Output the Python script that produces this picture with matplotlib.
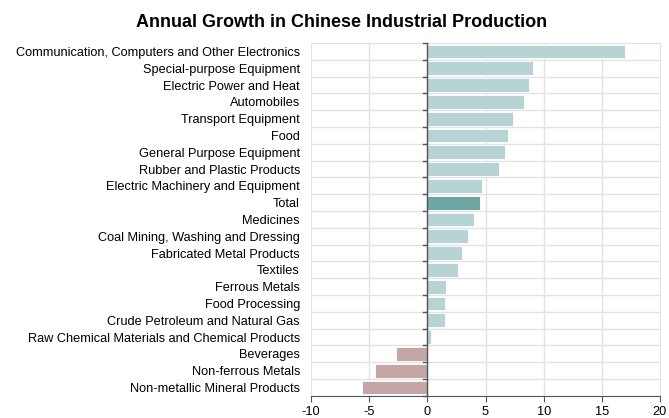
import numpy as np
import matplotlib.pyplot as plt

plt.rcParams['font.family'] = ['Liberation Sans', 'DejaVu Sans']

# Annual growth (%) by industry, top to bottom
industries = [
    'Communication, Computers and Other Electronics',
    'Special-purpose Equipment',
    'Electric Power and Heat',
    'Automobiles',
    'Transport Equipment',
    'Food',
    'General Purpose Equipment',
    'Rubber and Plastic Products',
    'Electric Machinery and Equipment',
    'Total',
    'Medicines',
    'Coal Mining, Washing and Dressing',
    'Fabricated Metal Products',
    'Textiles',
    'Ferrous Metals',
    'Food Processing',
    'Crude Petroleum and Natural Gas',
    'Raw Chemical Materials and Chemical Products',
    'Beverages',
    'Non-ferrous Metals',
    'Non-metallic Mineral Products',
]
growth = [17.0, 9.1, 8.7, 8.3, 7.4, 6.9, 6.7, 6.2, 4.7, 4.5, 4.0,
          3.5, 3.0, 2.6, 1.6, 1.5, 1.5, 0.3, -2.7, -4.5, -5.6]
xticks = [-10, -5, 0, 5, 10, 15, 20]

pos_color = '#b7d3d3'
total_color = '#6fa5a3'
neg_color = '#c4a6a6'

colors = []
for name, v in zip(industries, growth):
    if name == 'Total':
        colors.append(total_color)
    elif v < 0:
        colors.append(neg_color)
    else:
        colors.append(pos_color)

fig = plt.figure(figsize=(6.69, 4.18), dpi=100)
ax = fig.add_axes([0.465, 0.053, 0.5215, 0.844])

y = np.arange(len(industries))
ax.barh(y, growth, height=0.82, color=colors, edgecolor='white', linewidth=0.6, zorder=2)

ax.set_ylim(len(industries) - 0.5, -0.5)
ax.set_xlim(-10, 20)

# vertical grid at x ticks, horizontal grid between categories
ax.set_xticks(xticks)
ax.set_xticklabels([str(t) for t in xticks], fontsize=9.2)
for t in xticks[1:-1]:
    ax.axvline(t, color='#e3e3e3', linewidth=1, zorder=0)
for b in np.arange(0.5, len(industries) - 1, 1):
    ax.axhline(b, color='#e3e3e3', linewidth=1, zorder=0)

ax.set_yticks(y)
ax.set_yticklabels(industries, fontsize=9.2)
ax.tick_params(axis='y', length=0, pad=8)

# zero line with small ticks at category boundaries
ax.axvline(0, color='#555555', linewidth=1, zorder=3)
for b in np.arange(-0.5, len(industries), 1):
    ax.plot([-0.35, 0], [b, b], color='#555555', linewidth=1, zorder=3, clip_on=False)

for side in ['top', 'right', 'left']:
    ax.spines[side].set_color('#e3e3e3')
ax.spines['bottom'].set_color('#555555')
ax.tick_params(axis='x', color='#555555', length=4, pad=3)

fig.text(0.511, 0.945, 'Annual Growth in Chinese Industrial Production',
         ha='center', va='center', fontsize=13, fontweight='bold')

fig.savefig('out.png', dpi=100)
